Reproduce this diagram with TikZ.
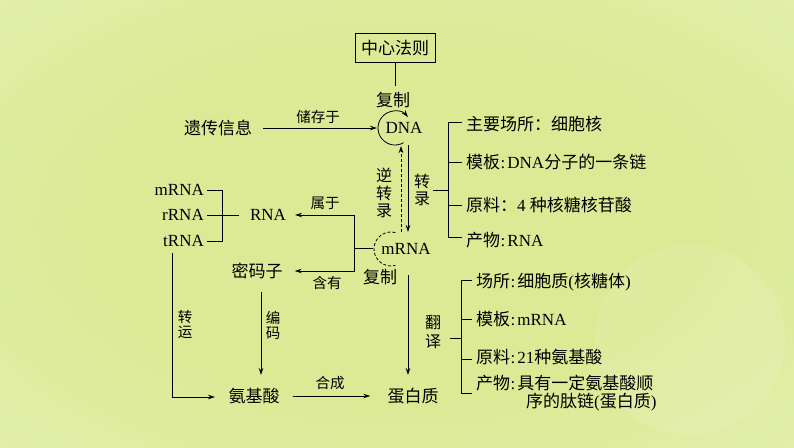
\documentclass[tikz,border=0pt]{standalone}
\usepackage{fontspec}
\setmainfont{Liberation Serif}
\newfontfamily\cjk{Noto Sans CJK SC}
\usetikzlibrary{arrows.meta}
\newcommand{\zh}[1]{{\cjk #1}}
\newcommand{\cln}{\kern0.5pt:\kern2pt}
\definecolor{bgin}{RGB}{220,234,150}
\definecolor{bgmid}{RGB}{228,240,175}
\definecolor{bgout}{RGB}{236,246,210}
\pgfdeclareradialshading{bgshade}{\pgfpoint{0bp}{0bp}}{color(0bp)=(bgin); color(20bp)=(bgin); color(40bp)=(bgmid); color(70bp)=(bgout)}
\begin{document}
\begin{tikzpicture}[x=1pt,y=1pt,
  txt/.style={inner sep=0pt, font=\fontsize{17}{19}\selectfont},
  lbl/.style={inner sep=0pt, font=\fontsize{14.5}{15}\selectfont},
  vtxt/.style={inner sep=0pt, align=center, font=\fontsize{16}{17.5}\selectfont},
  vlbl/.style={inner sep=0pt, align=center, font=\fontsize{14.5}{15}\selectfont},
  arr/.style={-{Stealth[length=7pt,width=4.5pt]}, line width=0.8pt},
  ln/.style={line width=0.8pt}]
\useasboundingbox (0,0) rectangle (794,-447);
\shade[shading=bgshade] (0,0) rectangle (794,-447);
\fill[white, opacity=0.1] (690,-340) circle (95);

% top box
\node[draw, ln, inner sep=0pt, minimum width=80pt, minimum height=29pt, txt] (zx) at (395,-48) {\zh{中心法则}};
\coordinate (zxend) at (395,-86);
\draw[ln] (zx.south) -- (zxend);
\node[txt] (fz1) at (393,-100) {\zh{复制}};

% DNA
\node[txt] (dna) at (404,-128) {DNA};
\coordinate (dnaC) at (395,-128);
\draw[arr] ([shift={(300:17)}]dnaC) arc[start angle=300, end angle=40, radius=17];
\node[txt] (yc) at (218,-128) {\zh{遗传信息}};
\coordinate (dnaL) at (377,-128);
\draw[arr] ([xshift=11pt]yc.east) -- (dnaL);
\node[lbl] (ccy) at (318,-117) {\zh{储存于}};

% mRNA
\node[txt] (mrna) at (406,-249) {mRNA};
\coordinate (mC) at (391,-249);
\draw[ln, dashed, dash pattern=on 3pt off 2pt] ([shift={(75:17)}]mC) arc[start angle=75, end angle=285, radius=17];
\coordinate (trS) at (408,-145);
\coordinate (trE) at (408,-232);
\coordinate (rtS) at (401,-232);
\coordinate (rtE) at (401,-146);
\draw[arr] (trS) -- (trE);
\draw[arr, dashed, dash pattern=on 3pt off 2pt] (rtS) -- (rtE);
\node[vtxt] (nzl) at (384,-193) {\zh{逆}\\\zh{转}\\\zh{录}};
\node[vtxt] (zl) at (422,-190) {\zh{转}\\\zh{录}};

% transcription bracket
\coordinate (zlR) at (433,-190);
\coordinate (bA) at (448,-190);
\draw[ln] (zlR) -- (bA);
\draw[ln] (462,-122) -- (448,-122) -- (448,-237) -- (462,-237);
\draw[ln] (448,-162) -- (462,-162);
\draw[ln] (448,-205) -- (462,-205);
\node[txt, anchor=west] (t1) at (466,-124) {\zh{主要场所：细胞核}};
\node[txt, anchor=west] (t2) at (466,-162) {\zh{模板}\cln DNA\zh{分子的一条链}};
\node[txt, anchor=west] (t3) at (466,-205) {\zh{原料：}4 \zh{种核糖核苷酸}};
\node[txt, anchor=west] (t4) at (466,-240) {\zh{产物}\cln RNA};

% left RNA types
\node[txt, anchor=east] (m1) at (204,-190) {mRNA};
\node[txt, anchor=east] (r1) at (204,-215) {rRNA};
\node[txt, anchor=east] (tr1) at (204,-241) {tRNA};
\draw[ln] (207,-190) -- (222,-190) -- (222,-241) -- (207,-241);
\draw[ln] (207,-215) -- (239,-215);
\node[txt] (rna) at (268,-215) {RNA};
\node[txt] (mmz) at (257,-271) {\zh{密码子}};
\coordinate (mL) at (373,-248);
\coordinate (jn) at (354,-248);
\draw[ln] (mL) -- (jn);
\draw[arr] (jn) |- ([xshift=9pt]rna.east);
\draw[arr] (jn) |- ([xshift=12pt]mmz.east);
\node[lbl] (sy) at (325,-203) {\zh{属于}};
\node[lbl] (hy) at (327,-283) {\zh{含有}};
\node[txt] (fz2) at (380,-277) {\zh{复制}};

% translation
\node[txt] (prot) at (413,-396) {\zh{蛋白质}};
\node[txt] (aa) at (254,-396) {\zh{氨基酸}};
\coordinate (tlS) at (408,-275);
\coordinate (tlE) at (408,-375);
\draw[arr] (tlS) -- (tlE);
\node[vtxt] (fy) at (433,-332) {\zh{翻}\\[2pt]\zh{译}};
\coordinate (fyR) at (450,-338);
\coordinate (bB) at (461,-338);
\draw[ln] (fyR) -- (bB);
\draw[ln] (472,-280) -- (461,-280) -- (461,-393) -- (472,-393);
\draw[ln] (461,-319) -- (472,-319);
\draw[ln] (461,-359) -- (472,-359);
\node[txt, anchor=west] (s1) at (476,-282) {\zh{场所}\cln\zh{细胞质}(\zh{核糖体})};
\node[txt, anchor=west] (s2) at (476,-319) {\zh{模板}\cln mRNA};
\node[txt, anchor=west] (s3) at (476,-357) {\zh{原料}\cln 21\zh{种氨基酸}};
\node[txt, anchor=west] (s4) at (476,-383) {\zh{产物}\cln\zh{具有一定氨基酸顺}};
\node[txt, anchor=west] (s4b) at (526,-402) {\zh{序的肽链}(\zh{蛋白质})};

% bottom connectors
\draw[arr] ([xshift=13pt]aa.east) -- ([xshift=-17pt]prot.west);
\node[lbl] (hc) at (330,-383) {\zh{合成}};
\coordinate (bmS) at (261,-292);
\coordinate (bmE) at (261,-375);
\draw[arr] (bmS) -- (bmE);
\node[vlbl] (bm) at (273,-325) {\zh{编}\\\zh{码}};
\coordinate (zyS) at (172,-253);
\coordinate (zyC) at (172,-397);
\coordinate (zyE) at (215,-397);
\draw[arr] (zyS) -- (zyC) -- (zyE);
\node[vlbl] (zy) at (185,-325) {\zh{转}\\\zh{运}};
\end{tikzpicture}
\end{document}
